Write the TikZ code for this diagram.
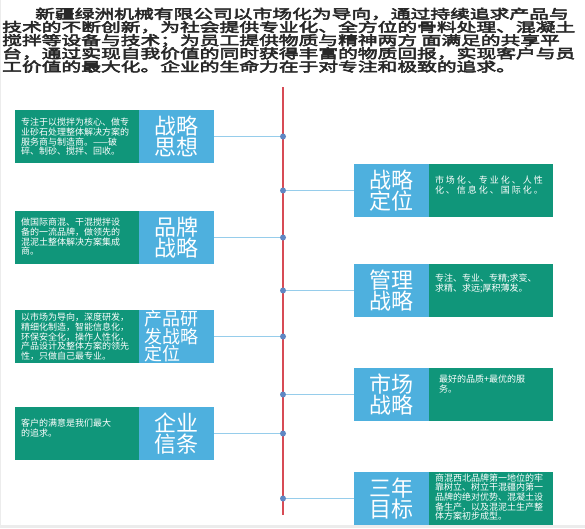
\documentclass[tikz,border=0pt]{standalone}
\usepackage{fontspec}
\usepackage{graphicx}
\usetikzlibrary{positioning}
\setmainfont{Noto Sans CJK SC}
\newfontfamily\titlefont[FakeStretch=1.52,FakeBold=4]{Noto Sans CJK SC}
\newfontfamily\spacedfont[LetterSpace=22]{Noto Sans CJK SC}
\definecolor{boxgreen}{RGB}{16,150,122}
\definecolor{boxblue}{RGB}{78,176,222}
\definecolor{linkblue}{RGB}{150,205,235}
\definecolor{spinered}{RGB}{215,75,85}
\definecolor{dotblue}{RGB}{95,135,195}
\definecolor{titlegray}{RGB}{40,40,40}
\definecolor{framegray}{RGB}{236,236,236}
% top-aligned text block of a green box
\newcommand{\gtext}[2][8pt]{\parbox[c][53pt][t]{112pt}{\raggedright\vspace*{#1}#2}}
\tikzset{
    titletext/.style={align=left, inner sep=0pt, text=titlegray,
                      font=\titlefont\fontsize{13}{13.2}\selectfont},
    greenbox/.style={rectangle, fill=boxgreen, text=white, inner xsep=6pt,
                     inner ysep=0pt, outer sep=0pt,
                     font=\fontsize{9}{9.7}\selectfont},
    bluebox/.style={rectangle, fill=boxblue, text=white, align=center,
                    minimum width=75pt, minimum height=53pt, inner sep=0pt,
                    outer sep=0pt, font=\fontsize{22}{21}\selectfont},
    spine/.style={draw=spinered, line width=1.8pt},
    link/.style={draw=linkblue, line width=1.3pt},
    dot/.style={circle, fill=dotblue, inner sep=0pt, minimum size=6pt},
}

\begin{document}
\begin{tikzpicture}[x=1pt, y=-1pt]
    \useasboundingbox (0,0) rectangle (585,528);
    \fill[framegray] (0,525) rectangle (585,528);
    \draw[framegray, line width=1pt] (0.5,0) -- (0.5,525);

    \node[titletext, anchor=north west] (title) at (2,7.5) {%
        \hspace*{33pt}新疆绿洲机械有限公司以市场化为导向，通过持续追求产品与\\
        技术的不断创新，为社会提供专业化、全方位的骨料处理、混凝土\\
        搅拌等设备与技术；为员工提供物质与精神两方 面满足的共享平\\
        台，通过实现自我价值的同时获得丰富的物质回报，实现客户与员\\
        工价值的最大化。企业的生命力在于对专注和极致的追求。%
    };

    \coordinate (top) at (283,87);
    \coordinate (bot) at (283,515);

    % left column
    \node[greenbox, anchor=north west] (g1) at (15,110) {\gtext{%
        专注于以搅拌为核心、做专\\业砂石处理整体解决方案的\\
        服务商与制造商。——破\\碎、制砂、搅拌、回收。}};
    \node[bluebox, right=0pt of g1] (b1) {战略\\思想};

    \node[greenbox, anchor=north west] (g2) at (15,211) {\gtext[7pt]{%
        做国际商混、干混搅拌设\\备的一流品牌，做领先的\\
        混泥土整体解决方案集成\\商。}};
    \node[bluebox, right=0pt of g2] (b2) {品牌\\战略};

    \node[greenbox, anchor=north west] (g3) at (15,310) {\gtext[3pt]{%
        以市场为导向，深度研发，\\精细化制造，智能信息化，\\
        环保安全化，操作人性化，\\产品设计及整体方案的领先\\
        性，只做自己最专业。}};
    \node[bluebox, right=0pt of g3, align=left, text width=64pt,
          font=\fontsize{18}{17.5}\selectfont] (b3) {产品研\\发战略\\定位};

    \node[greenbox, anchor=north west] (g4) at (15,407) {\gtext[12pt]{%
        客户的满意是我们最大\\的追求。}};
    \node[bluebox, right=0pt of g4] (b4) {企业\\信条};

    % right column
    \node[bluebox, anchor=north west] (b5) at (354,164) {战略\\定位};
    \node[greenbox, right=0pt of b5] (g5) {\gtext[12pt]{\spacedfont
        市场化、专业化、人性\\化、信息化、国际化。}};

    \node[bluebox, anchor=north west] (b6) at (354,264) {管理\\战略};
    \node[greenbox, right=0pt of b6] (g6) {\gtext[10pt]{%
        专注、专业、专精;求变、\\求精、求远;厚积薄发。}};

    \node[bluebox, anchor=north west] (b7) at (354,368) {市场\\战略};
    \node[greenbox, right=0pt of b7] (g7) {\gtext[7pt]{%
        \hspace*{4pt}最好的品质+最优的服\\\hspace*{4pt}务。}};

    \node[bluebox, anchor=north west] (b8) at (354,472) {三年\\目标};
    \node[greenbox, right=0pt of b8] (g8) {\gtext[1.5pt]{%
        商混西北品牌第一地位的牢\\靠树立、树立干混疆内第一\\
        品牌的绝对优势、混凝土设\\备生产，以及混泥土生产整\\
        体方案初步成型。}};

    % spine and connectors
    \draw[spine] (top) -- (bot);
    \node[dot] (d1) at (b1 -| top) {};
    \node[dot] (d2) at (b2 -| top) {};
    \node[dot] (d3) at (b3 -| top) {};
    \node[dot] (d4) at (b4 -| top) {};
    \node[dot] (d5) at (b5 -| top) {};
    \node[dot] (d6) at (b6 -| top) {};
    \node[dot] (d7) at (b7 -| top) {};
    \node[dot] (d8) at (b8 -| top) {};
    \draw[link] (b1) -- (d1);
    \draw[link] (b2) -- (d2);
    \draw[link] (b3) -- (d3);
    \draw[link] (b4) -- (d4);
    \draw[link] (b5) -- (d5);
    \draw[link] (b6) -- (d6);
    \draw[link] (b7) -- (d7);
    \draw[link] (b8) -- (d8);
\end{tikzpicture}
\end{document}
